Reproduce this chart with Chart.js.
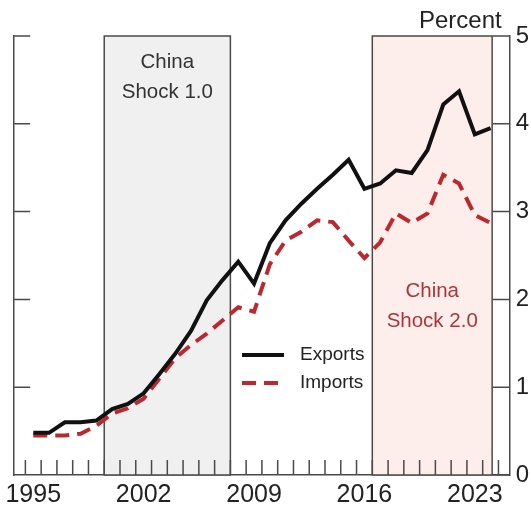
<!DOCTYPE html>
<html>
<head>
<meta charset="utf-8">
<script src="https://cdn.jsdelivr.net/npm/chart.js@4.4.1/dist/chart.umd.min.js"></script>
<style>
  html, body { margin: 0; padding: 0; background: #fff; }
  #wrap { width: 531px; height: 506px; }
</style>
</head>
<body>
<div id="wrap"><canvas id="tradeChart" width="531" height="506"></canvas></div>
<script>
// ── Chart Data ─────────────────────────────────────────────
const years = [1995, 1996, 1997, 1998, 1999, 2000, 2001, 2002, 2003, 2004,
               2005, 2006, 2007, 2008, 2009, 2010, 2011, 2012, 2013, 2014,
               2015, 2016, 2017, 2018, 2019, 2020, 2021, 2022, 2023, 2024];
const exportsShare = [0.48, 0.48, 0.60, 0.60, 0.62, 0.75, 0.81, 0.93, 1.15, 1.38,
                      1.64, 1.99, 2.22, 2.43, 2.18, 2.64, 2.90, 3.09, 3.26, 3.42,
                      3.59, 3.26, 3.32, 3.47, 3.44, 3.70, 4.22, 4.37, 3.88, 3.95];
const importsShare = [0.45, 0.45, 0.45, 0.47, 0.56, 0.70, 0.76, 0.87, 1.10, 1.33,
                      1.48, 1.61, 1.76, 1.91, 1.86, 2.40, 2.67, 2.77, 2.90, 2.88,
                      2.67, 2.47, 2.65, 2.98, 2.87, 2.98, 3.42, 3.32, 2.96, 2.87];
const xLabelYears = [1995, 2002, 2009, 2016, 2023];
const yTicks = [0, 1, 2, 3, 4, 5];
const shock1 = [2000, 2008];
const shock2 = [2017, 2024.6];

// ── Styles ─────────────────────────────────────────────────
const FONT = '"Liberation Sans", Arial, Helvetica, sans-serif';
const AXIS = '#4a4a4a';
const RED = '#bb282d';

// ── Overlays: shading, notes, inner ticks, legend ─────────
const overlays = {
  id: 'overlays',
  beforeDatasetsDraw(chart) {
    const { ctx, scales: { x, y } } = chart;
    const top = y.getPixelForValue(5), bottom = y.getPixelForValue(0);

    const shade = (range, fill) => {
      const l = x.getPixelForValue(range[0]), r = x.getPixelForValue(range[1]);
      ctx.save();
      ctx.fillStyle = fill;
      ctx.fillRect(l, top, r - l, bottom - top);
      ctx.strokeStyle = AXIS;
      ctx.lineWidth = 1.5;
      ctx.strokeRect(l, top, r - l, bottom - top);
      ctx.restore();
      return (l + r) / 2;
    };
    const c1 = shade(shock1, '#f0f0f0');
    const c2 = shade(shock2, '#fdeeec');

    ctx.save();
    ctx.font = '20.5px ' + FONT;
    ctx.textAlign = 'center';
    ctx.textBaseline = 'alphabetic';
    ctx.fillStyle = '#333';
    ctx.fillText('China', c1, 68);
    ctx.fillText('Shock 1.0', c1, 98);
    ctx.fillStyle = '#a8373a';
    ctx.fillText('China', c2, 297);
    ctx.fillText('Shock 2.0', c2, 327);
    ctx.restore();
  },
  afterDatasetsDraw(chart) {
    const { ctx, chartArea: a, scales: { x, y } } = chart;
    ctx.save();
    ctx.strokeStyle = AXIS;
    ctx.lineWidth = 1.5;
    ctx.beginPath();
    // year ticks, pointing inward
    for (let yr = 1995; yr <= 2025; yr++) {
      const px = x.getPixelForValue(yr);
      ctx.moveTo(px, a.bottom);
      ctx.lineTo(px, a.bottom - 15);
    }
    // value ticks on both sides
    yTicks.forEach(v => {
      const py = y.getPixelForValue(v);
      if (v > 0) { ctx.moveTo(a.left, py); ctx.lineTo(a.left + 16, py); }
      ctx.moveTo(a.right, py); ctx.lineTo(a.right - 17, py);
    });
    ctx.stroke();

    // unit label
    ctx.font = '24px ' + FONT;
    ctx.fillStyle = '#222';
    ctx.textAlign = 'right';
    ctx.textBaseline = 'alphabetic';
    ctx.fillText('Percent', a.right - 8, 28);

    // legend
    ctx.lineWidth = 4;
    ctx.strokeStyle = '#111';
    ctx.beginPath(); ctx.moveTo(242, 355); ctx.lineTo(284, 355); ctx.stroke();
    ctx.strokeStyle = RED;
    ctx.setLineDash([14, 8]);
    ctx.beginPath(); ctx.moveTo(242, 383); ctx.lineTo(284, 383); ctx.stroke();
    ctx.setLineDash([]);
    ctx.font = '19px ' + FONT;
    ctx.textAlign = 'left';
    ctx.textBaseline = 'middle';
    ctx.fillStyle = '#222';
    ctx.fillText('Exports', 300, 355);
    ctx.fillText('Imports', 300, 383);
    ctx.restore();
  }
};

// ── Trade Share Chart ──────────────────────────────────────
const ctx = document.getElementById('tradeChart').getContext('2d');
const tradeChart = new Chart(ctx, {
  type: 'line',
  data: {
    datasets: [{
      label: 'Exports',
      data: years.map((yr, i) => ({ x: yr + 0.5, y: exportsShare[i] })),
      borderColor: '#111',
      borderWidth: 4,
      pointRadius: 0,
      tension: 0,
    }, {
      label: 'Imports',
      data: years.map((yr, i) => ({ x: yr + 0.5, y: importsShare[i] })),
      borderColor: RED,
      borderWidth: 4,
      borderDash: [14, 8],
      pointRadius: 0,
      tension: 0,
    }]
  },
  options: {
    responsive: false,
    animation: false,
    layout: { padding: { left: 12, right: -4, top: 36, bottom: -9 } },
    plugins: {
      legend: { display: false },
      tooltip: { enabled: false }
    },
    scales: {
      x: {
        type: 'linear',
        min: 1994.29,
        max: 2025.71,
        afterBuildTicks: s => { s.ticks = xLabelYears.map(v => ({ value: v + 0.5 })); },
        grid: { display: false, drawTicks: false },
        border: { display: true, color: AXIS, width: 1.5 },
        ticks: {
          callback: v => String(Math.floor(v)),
          font: { size: 25, family: FONT },
          color: '#222',
          padding: 5,
          maxRotation: 0,
          autoSkip: false
        }
      },
      y: {
        position: 'right',
        min: 0,
        max: 5,
        afterBuildTicks: s => { s.ticks = yTicks.map(v => ({ value: v })); },
        grid: { display: false, drawTicks: false },
        border: { display: true, color: AXIS, width: 1.5 },
        ticks: { font: { size: 24, family: FONT }, color: '#222', padding: 6 }
      },
      yLeft: {
        position: 'left',
        min: 0,
        max: 5,
        grid: { display: false, drawTicks: false },
        border: { display: true, color: AXIS, width: 1.5 },
        ticks: { display: false }
      }
    }
  },
  plugins: [overlays]
});
</script>
</body>
</html>
